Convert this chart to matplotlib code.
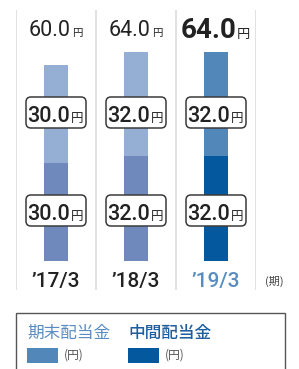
import matplotlib.pyplot as plt
import matplotlib.transforms as mtransforms
from matplotlib.patches import FancyBboxPatch, Rectangle

# data
categories = ['’17/3', '’18/3', '’19/3']
interim = [30.0, 32.0, 32.0]      # 中間配当金 (bottom)
year_end = [30.0, 32.0, 32.0]     # 期末配当金 (top)
totals = [a + b for a, b in zip(interim, year_end)]

# colours: past years muted, latest year highlighted
top_colors = ['#94aed4', '#94aed4', '#5288b9']
bottom_colors = ['#6f89bc', '#6f89bc', '#03589e']
label_colors = ['#222222', '#222222', '#5a8cc0']

W, H = 299, 369
fig = plt.figure(figsize=(W / 100, H / 100), dpi=100)

# axes: x from separator at 16px to 256px, y from 10px to 290px; zero at 261px
px_per_unit = 3.27
ax = fig.add_axes([16 / W, (H - 290) / H, 240 / W, 280 / H])
ax.set_xlim(-0.5, 2.5)
ax.set_ylim(-(290 - 261) / px_per_unit, (261 - 10) / px_per_unit)
ax.axis('off')

def py(pix):
    # pixel row -> data y
    return (261 - pix) / px_per_unit

for sx in [-0.5, 0.5, 1.5, 2.5]:
    ax.axvline(sx, color='#dcdcdc', lw=1.2, zorder=0)

x = list(range(len(categories)))
ax.bar(x, interim, width=0.29, color=bottom_colors, zorder=2)
ax.bar(x, year_end, width=0.29, bottom=interim, color=top_colors, zorder=2)

num_font = ['Roboto', 'DejaVu Sans']
cjk_font = ['Noto Sans CJK JP', 'DejaVu Sans']

# totals on top
for i, t in enumerate(totals):
    big = i == len(totals) - 1
    joint = 14.4 if big else 10.8
    y = py(38 if big else 36)
    ax.annotate(f'{t:.1f}', (i, y), xytext=(joint, 0), textcoords='offset points',
                ha='right', va='baseline', fontsize=20 if big else 15.5,
                fontweight='bold' if big else 'normal', color='#222222',
                family=num_font, annotation_clip=False)
    ax.annotate('円', (i, y), xytext=(joint + 0.5, 0), textcoords='offset points',
                ha='left', va='baseline', fontsize=9.5 if big else 7.5,
                color='#222222', family=cjk_font, annotation_clip=False)

# boxed segment labels
def boxed(i, ycenter, val):
    tr = fig.dpi_scale_trans + mtransforms.ScaledTranslation(i, ycenter, ax.transData)
    bw, bh = 0.60, 0.31
    box = FancyBboxPatch((-bw / 2, -bh / 2), bw, bh,
                         boxstyle='round,pad=0,rounding_size=0.05',
                         transform=tr, facecolor='white', edgecolor='#3a3a3a',
                         lw=1.1, zorder=3, clip_on=False)
    ax.add_patch(box)
    ax.annotate(f'{val:.1f}', (i, ycenter), xytext=(10.0, -6.5), textcoords='offset points',
                ha='right', va='baseline', fontsize=15.5, fontweight='medium',
                color='#222222', family=num_font, zorder=4, annotation_clip=False)
    ax.annotate('円', (i, ycenter), xytext=(10.5, -6.5), textcoords='offset points',
                ha='left', va='baseline', fontsize=9, color='#222222',
                family=cjk_font, zorder=4, annotation_clip=False)

for i in x:
    boxed(i, py(112.5), year_end[i])
    boxed(i, py(210.5), interim[i])

# category labels
for i, c in enumerate(categories):
    ax.text(i, py(287), c, ha='center', va='baseline', fontsize=15,
            fontweight='medium', color=label_colors[i], family=num_font,
            clip_on=False)
ax.text((274 - 16) / 80 - 0.5, py(285), '(期)', ha='center', va='baseline',
        fontsize=8, color='#444444', family=cjk_font, clip_on=False)

# legend box
fig.patches.append(Rectangle((16 / W, -0.05), (285 - 16) / W, (H - 313) / H + 0.05,
                             transform=fig.transFigure, fill=False,
                             edgecolor='#555555', lw=1.0))
legend_items = [('期末配当金', '#5a8cc0', '#5288b9', 'normal', 27),
                ('中間配当金', '#1f5fa0', '#03589e', 'medium', 128)]
for name, tcol, pcol, wt, lx in legend_items:
    fig.text(lx / W, 1 - 333 / H, name, ha='left', va='center', fontsize=12,
             color=tcol, fontweight=wt, family=cjk_font)
    fig.patches.append(Rectangle((lx / W, 1 - 363 / H), 31 / W, 15 / H,
                                 transform=fig.transFigure, facecolor=pcol,
                                 edgecolor='none'))
    fig.text((lx + 37) / W, 1 - 355 / H, '(円)', ha='left', va='center',
             fontsize=8.5, color='#555555', family=cjk_font)

fig.savefig('out.png', dpi=100)
